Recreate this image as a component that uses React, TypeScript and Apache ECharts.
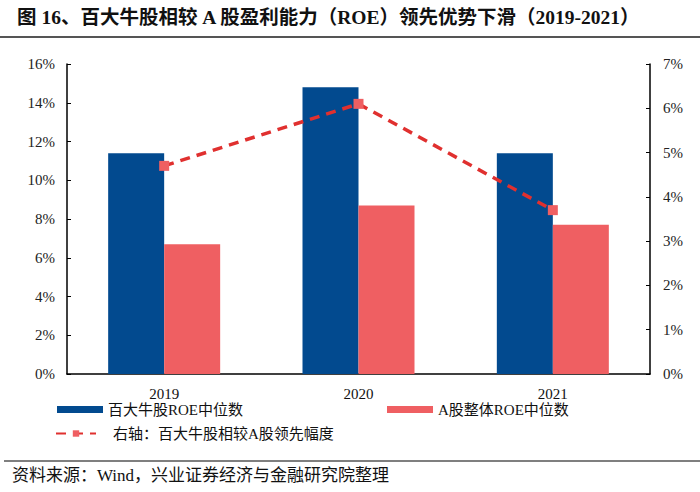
import React, { useEffect, useRef } from "react";
import * as echarts from "echarts";

const categories = ["2019", "2020", "2021"];
const top100Roe = [11.4, 14.8, 11.4];
const aShareRoe = [6.7, 8.7, 7.7];
const leadGap = [4.7, 6.1, 3.7];
const leftTicks = { min: 0, max: 16, interval: 2 };
const rightTicks = { min: 0, max: 7, interval: 1 };

const NAME_BLUE = "百大牛股ROE中位数";
const NAME_RED = "A股整体ROE中位数";
const NAME_LINE = "右轴：百大牛股相较A股领先幅度";
const TITLE = "图 16、百大牛股相较 A 股盈利能力（ROE）领先优势下滑（2019-2021）";
const SOURCE = "资料来源：Wind，兴业证券经济与金融研究院整理";

const SERIF = "'Liberation Serif', 'Times New Roman', 'Noto Sans CJK SC', serif";

export default function App() {
  const ref = useRef<HTMLDivElement>(null);
  useEffect(() => {
    if (!ref.current) return;
    const chart = echarts.init(ref.current, null, { renderer: "svg" });
    const axisLine = { show: true, lineStyle: { color: "#000", width: 1.5 } };
    chart.setOption({
      animation: false,
      backgroundColor: "#fff",
      textStyle: { fontFamily: SERIF },
      title: {
        text: TITLE,
        left: 17,
        top: 8,
        padding: 0,
        textStyle: { fontSize: 19.5, fontWeight: "bold", color: "#111", fontFamily: SERIF },
      },
      graphic: [
        { type: "line", shape: { x1: 0, y1: 37, x2: 700, y2: 37 }, style: { stroke: "#555", lineWidth: 2 } },
        { type: "line", shape: { x1: 4, y1: 461, x2: 700, y2: 461 }, style: { stroke: "#555", lineWidth: 1.5 } },
        {
          type: "text",
          left: 12,
          top: 467,
          style: { text: SOURCE, fontSize: 17, fill: "#111", fontFamily: SERIF },
        },
      ],
      legend: [
        {
          data: [NAME_BLUE],
          left: 57,
          top: 402,
          padding: 0,
          itemWidth: 46,
          itemHeight: 7,
          icon: "rect",
          textStyle: { fontSize: 15, color: "#111", fontFamily: SERIF },
        },
        {
          data: [NAME_RED],
          left: 387,
          top: 402,
          padding: 0,
          itemWidth: 46,
          itemHeight: 7,
          icon: "rect",
          textStyle: { fontSize: 15, color: "#111", fontFamily: SERIF },
        },
        {
          data: [NAME_LINE],
          left: 55,
          top: 426,
          padding: 0,
          itemWidth: 40,
          itemHeight: 8,
          textStyle: { fontSize: 15, color: "#111", fontFamily: SERIF, padding: [0, 0, 0, 12] },
        },
      ],
      grid: { left: 67, right: 50, top: 64, bottom: 118, containLabel: false },
      xAxis: {
        type: "category",
        data: categories,
        axisLine,
        axisTick: { show: false },
        axisLabel: { fontSize: 15, color: "#111", margin: 12, fontFamily: SERIF },
      },
      yAxis: [
        {
          type: "value",
          ...leftTicks,
          axisLine,
          axisTick: { show: true, inside: true, length: 4, lineStyle: { color: "#000" } },
          splitLine: { show: false },
          axisLabel: { fontSize: 15, color: "#222", margin: 12, formatter: (v: number) => `${v}%`, fontFamily: SERIF },
        },
        {
          type: "value",
          ...rightTicks,
          position: "right",
          axisLine,
          axisTick: { show: true, inside: true, length: 4, lineStyle: { color: "#000" } },
          splitLine: { show: false },
          axisLabel: { fontSize: 15, color: "#222", margin: 13, formatter: (v: number) => `${v}%`, fontFamily: SERIF },
        },
      ],
      series: [
        {
          name: NAME_BLUE,
          type: "bar",
          data: top100Roe,
          barWidth: 56,
          barGap: "0%",
          itemStyle: { color: "#024A8F" },
        },
        {
          name: NAME_RED,
          type: "bar",
          data: aShareRoe,
          barWidth: 56,
          barGap: "0%",
          itemStyle: { color: "#EF5F62" },
        },
        {
          name: NAME_LINE,
          type: "line",
          yAxisIndex: 1,
          data: leadGap,
          symbol: "rect",
          symbolSize: 10,
          itemStyle: { color: "#EF5F62" },
          lineStyle: { color: "#E0302F", width: 3.5, type: [10, 7] },
          z: 5,
        },
      ],
    });
    return () => chart.dispose();
  }, []);
  return <div ref={ref} style={{ width: 700, height: 492, position: "absolute", left: 0, top: 0 }} />;
}
